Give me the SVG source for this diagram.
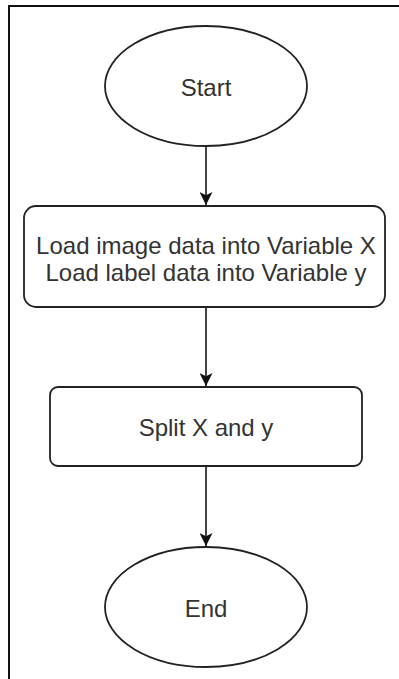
<svg xmlns="http://www.w3.org/2000/svg" width="399" height="679" viewBox="0 0 399 679">
<style>
.shape{fill:#fff;stroke:#222;stroke-width:1.8}
.lbl{font-family:"Liberation Sans",Arial,sans-serif;font-size:24px;fill:#333;text-anchor:middle;dominant-baseline:central}
.edge{stroke:#444;stroke-width:2;fill:none}
</style>
<defs>
<marker id="arr" viewBox="0 0 12 12" refX="12" refY="6" markerWidth="13" markerHeight="13" markerUnits="userSpaceOnUse" orient="auto">
<path d="M0,0 L12,6 L0,12 L3,6 Z" fill="#111"/>
</marker>
</defs>
<rect x="9" y="6" width="400" height="690" fill="#fff" stroke="#111" stroke-width="2"/>
<g id="connectors">
<line class="edge" x1="206" y1="146" x2="206" y2="205" marker-end="url(#arr)"/>
<line class="edge" x1="206" y1="307" x2="206" y2="386" marker-end="url(#arr)"/>
<line class="edge" x1="206" y1="466" x2="206" y2="546" marker-end="url(#arr)"/>
</g>
<g id="start">
<ellipse class="shape" cx="206" cy="86" rx="101" ry="60"/>
<text class="lbl" x="206" y="87">Start</text>
</g>
<g id="load">
<rect class="shape" x="24" y="206" width="361" height="101" rx="12"/>
<text class="lbl" x="206" y="245">Load image data into Variable X</text>
<text class="lbl" x="206" y="272">Load label data into Variable y</text>
</g>
<g id="split">
<rect class="shape" x="50" y="387" width="312" height="79" rx="8"/>
<text class="lbl" x="206" y="427">Split X and y</text>
</g>
<g id="end">
<ellipse class="shape" cx="206" cy="607" rx="101" ry="60"/>
<text class="lbl" x="206" y="608">End</text>
</g>
</svg>
